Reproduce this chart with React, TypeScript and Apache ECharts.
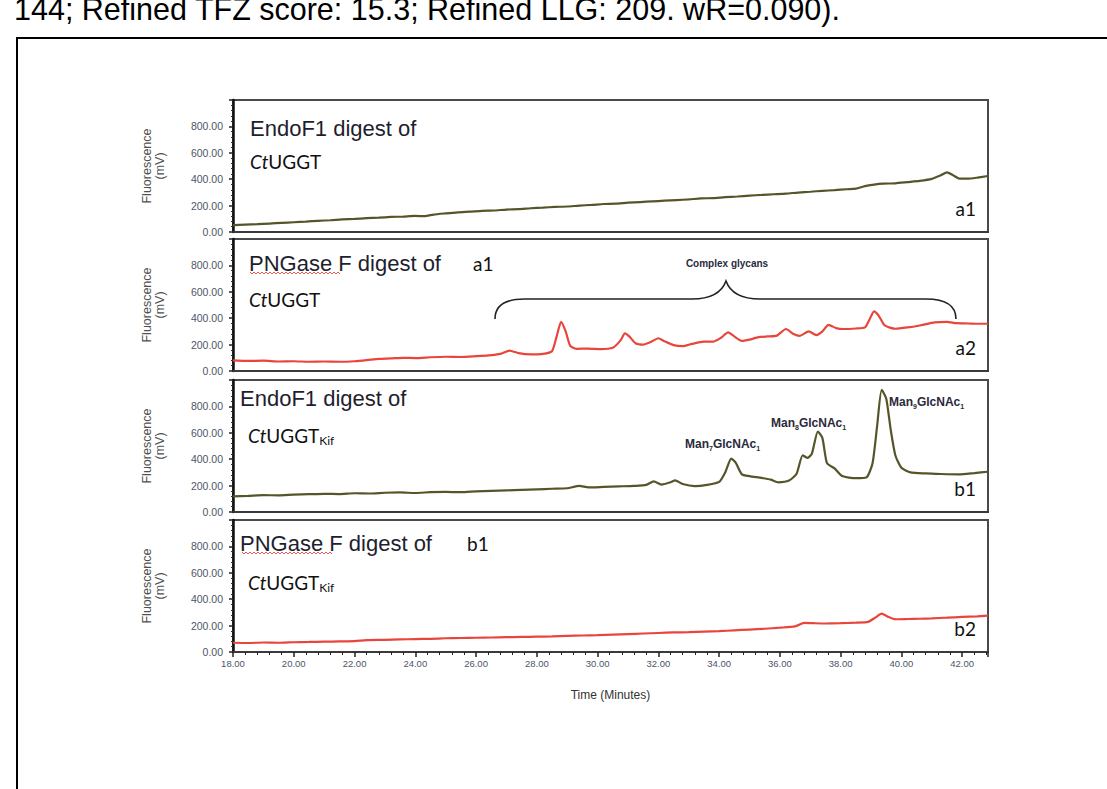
import React, { useEffect, useRef } from "react";
import * as echarts from "echarts";

// ---- data (Time in minutes, Fluorescence in mV) ----
const xTickValues = [18, 20, 22, 24, 26, 28, 30, 32, 34, 36, 38, 40, 42];
const yTickValues = [0, 200, 400, 600, 800];

const traceA1: number[][] = [
  [18.0, 52], [18.4, 56], [18.8, 59], [19.2, 64], [19.6, 69], [20.0, 74], [20.4, 79], [20.8, 85],
  [21.2, 89], [21.6, 95], [22.0, 99], [22.4, 105], [22.8, 109], [23.2, 114], [23.6, 117], [24.0, 122],
  [24.3, 120], [24.6, 132], [25.0, 141], [25.4, 149], [25.8, 154], [26.2, 160], [26.6, 163], [27.0, 170],
  [27.4, 173], [27.8, 180], [28.2, 185], [28.6, 190], [29.0, 193], [29.4, 200], [29.8, 205], [30.2, 212],
  [30.6, 215], [31.0, 222], [31.4, 227], [31.8, 232], [32.2, 237], [32.6, 242], [33.0, 247], [33.4, 254],
  [33.8, 257], [34.2, 264], [34.6, 269], [35.0, 276], [35.4, 281], [35.8, 286], [36.2, 291], [36.6, 299],
  [37.0, 305], [37.4, 312], [37.8, 317], [38.2, 324], [38.5, 328], [38.8, 348], [39.1, 359], [39.4, 366],
  [39.8, 369], [40.2, 378], [40.6, 387], [41.0, 402], [41.3, 430], [41.5, 452], [41.7, 430], [41.9, 405],
  [42.2, 404], [42.5, 412], [42.85, 424]
];

const traceA2: number[][] = [
  [18.0, 80], [18.5, 76], [19.0, 78], [19.5, 72], [20.0, 74], [20.5, 70], [21.0, 72], [21.5, 70],
  [22.0, 74], [22.4, 82], [22.8, 92], [23.2, 95], [23.6, 100], [24.0, 98], [24.5, 104], [25.0, 108],
  [25.5, 106], [26.0, 112], [26.4, 118], [26.8, 130], [27.1, 155], [27.4, 135], [27.8, 126], [28.2, 130],
  [28.5, 150], [28.65, 260], [28.8, 372], [28.95, 300], [29.1, 190], [29.3, 168], [29.7, 170], [30.1, 166],
  [30.5, 176], [30.75, 230], [30.9, 285], [31.05, 260], [31.25, 210], [31.5, 200], [31.75, 220], [32.0, 248],
  [32.2, 225], [32.5, 196], [32.8, 188], [33.1, 205], [33.5, 222], [33.8, 222], [34.05, 250], [34.3, 292],
  [34.5, 262], [34.75, 228], [35.0, 238], [35.3, 256], [35.6, 262], [35.9, 268], [36.2, 318], [36.45, 280],
  [36.65, 266], [36.95, 300], [37.2, 272], [37.4, 300], [37.6, 350], [37.85, 325], [38.1, 318], [38.5, 322],
  [38.8, 330], [38.95, 390], [39.1, 452], [39.25, 420], [39.45, 345], [39.8, 320], [40.2, 330], [40.6, 345],
  [41.1, 368], [41.5, 372], [41.8, 362], [42.2, 360], [42.5, 358], [42.85, 358]
];

const traceB1: number[][] = [
  [18.0, 118], [18.5, 122], [19.0, 128], [19.5, 126], [20.0, 132], [20.5, 135], [21.0, 138], [21.5, 136],
  [22.0, 142], [22.5, 140], [23.0, 146], [23.5, 148], [24.0, 144], [24.5, 150], [25.0, 152], [25.5, 150],
  [26.0, 156], [26.5, 160], [27.0, 164], [27.5, 168], [28.0, 172], [28.5, 176], [29.0, 180], [29.4, 198],
  [29.7, 186], [30.2, 190], [30.7, 194], [31.2, 198], [31.6, 205], [31.85, 232], [32.1, 208], [32.4, 225],
  [32.55, 240], [32.8, 212], [33.2, 196], [33.6, 205], [34.0, 228], [34.2, 300], [34.4, 405], [34.55, 372],
  [34.75, 285], [35.0, 272], [35.4, 258], [35.7, 245], [35.95, 225], [36.3, 238], [36.55, 290], [36.75, 430],
  [36.9, 410], [37.05, 440], [37.25, 610], [37.4, 560], [37.55, 370], [37.8, 330], [38.05, 272], [38.5, 256],
  [38.85, 262], [39.05, 370], [39.2, 650], [39.35, 925], [39.5, 860], [39.65, 620], [39.8, 430], [40.0, 335],
  [40.3, 300], [40.8, 292], [41.3, 288], [41.9, 285], [42.4, 295], [42.85, 305]
];

const traceB2: number[][] = [
  [18.0, 70], [18.5, 68], [19.0, 72], [19.5, 70], [20.0, 74], [20.5, 76], [21.0, 78], [21.5, 80],
  [22.0, 82], [22.4, 90], [23.0, 92], [23.5, 95], [24.0, 98], [24.5, 100], [25.0, 104], [25.5, 106],
  [26.0, 108], [26.5, 110], [27.0, 112], [27.5, 114], [28.0, 116], [28.5, 118], [29.0, 122], [29.5, 125],
  [30.0, 128], [30.5, 132], [31.0, 136], [31.5, 140], [32.0, 144], [32.5, 148], [33.0, 150], [33.5, 154],
  [34.0, 158], [34.5, 164], [35.0, 170], [35.5, 176], [36.0, 184], [36.5, 194], [36.8, 220], [37.1, 218],
  [37.5, 216], [38.0, 218], [38.5, 222], [38.9, 228], [39.15, 262], [39.35, 290], [39.55, 268], [39.8, 248],
  [40.2, 250], [40.6, 252], [41.0, 255], [41.5, 260], [42.0, 266], [42.5, 270], [42.85, 275]
];

const traces = [traceA1, traceA2, traceB1, traceB2];
const traceColors = ["#56552a", "#e8463c", "#56552a", "#e8463c"];
const cornerLabels = ["a1", "a2", "b1", "b2"];
const peakLabels = [
  { man: "7", glc: "1" },
  { man: "8", glc: "1" },
  { man: "9", glc: "1" }
];

const topNote = "144; Refined TFZ score: 15.3; Refined LLG: 209. wR=0.090).";

// ---- layout ----
const gridTops = [100, 239, 380, 520];
const gridH = 132;
const gridLeft = 233;
const gridW = 755;

export default function App() {
  const ref = useRef<HTMLDivElement>(null);

  useEffect(() => {
    if (!ref.current) return;
    const chart = echarts.init(ref.current, null, { renderer: "svg" });

    const braceD =
      "M495,319 C495,306 505,299 525,299 L692,299 C711,299 722,292 726,281 C730,292 741,299 760,299 L926,299 C946,299 956,306 956,319";
    echarts.graphic.registerShape("brace", echarts.graphic.extendPath(braceD, {}) as any);

    const grids = gridTops.map((t) => ({
      left: gridLeft,
      top: t,
      width: gridW,
      height: gridH,
      show: true,
      borderColor: "#4a4a4a",
      borderWidth: 2
    }));

    const xAxes = gridTops.map((_, i) => {
      const last = i === gridTops.length - 1;
      return {
        type: "value",
        gridIndex: i,
        min: 18,
        max: 42.85,
        interval: 2,
        axisLine: { show: true, lineStyle: { color: "#3a3a3a", width: 2 } },
        axisTick: { show: last, length: 5, lineStyle: { color: "#222", width: 1.5 } },
        minorTick: { show: last, splitNumber: 5, length: 3, lineStyle: { color: "#222", width: 1 } },
        splitLine: { show: false },
        axisLabel: {
          show: last,
          showMaxLabel: false,
          formatter: (v: number) => (xTickValues.indexOf(v) >= 0 ? v.toFixed(2) : ""),
          fontSize: 9.5,
          fontFamily: "Liberation Sans, Arial, sans-serif",
          color: "#4d5566",
          margin: 6
        },
        name: last ? "Time (Minutes)" : "",
        nameLocation: "middle",
        nameGap: 37,
        nameTextStyle: { fontSize: 12, fontFamily: "Liberation Sans, Arial, sans-serif", color: "#333" }
      };
    });

    const yAxes = gridTops.map((_, i) => ({
      type: "value",
      gridIndex: i,
      min: 0,
      max: 1000,
      interval: 200,
      axisLine: { show: true, lineStyle: { color: "#111", width: 2.5 } },
      axisTick: { show: true, length: 4, lineStyle: { color: "#222", width: 1.5 } },
      minorTick: { show: true, splitNumber: 5, length: 2, lineStyle: { color: "#333", width: 1 } },
      splitLine: { show: false },
      axisLabel: {
        showMaxLabel: false,
        formatter: (v: number) => (yTickValues.indexOf(v) >= 0 ? v.toFixed(2) : ""),
        fontSize: 10.5,
        fontFamily: "Liberation Sans, Arial, sans-serif",
        color: "#4d5566",
        margin: 10
      },
      name: "Fluorescence\n(mV)",
      nameLocation: "middle",
      nameRotate: 90,
      nameGap: 67,
      nameTextStyle: {
        fontSize: 12.5,
        lineHeight: 13,
        fontFamily: "Liberation Sans, Arial, sans-serif",
        color: "#505050"
      }
    }));

    const series = traces.map((d, i) => ({
      type: "line",
      xAxisIndex: i,
      yAxisIndex: i,
      data: d,
      showSymbol: false,
      smooth: 0.2,
      lineStyle: { color: traceColors[i], width: 2.2 },
      silent: true
    }));

    const titleFont = "Liberation Sans, Arial, sans-serif";
    const calFont = "Lato, 'Open Sans', sans-serif";
    const titleColor = "#1e1e2e";

    const wavy = (x0: number, x1: number, y: number) => {
      const pts: number[][] = [];
      let k = 0;
      for (let x = x0; x <= x1; x += 2) {
        pts.push([x, y + (k % 2 === 0 ? -1 : 1)]);
        k++;
      }
      return {
        type: "polyline",
        shape: { points: pts },
        style: { stroke: "#e0302a", lineWidth: 0.8, fill: "none" },
        silent: true
      };
    };

    const bigText = (x: number, y: number, text: string) => ({
      type: "text",
      x,
      y,
      style: {
        text,
        fill: titleColor,
        fontSize: 22,
        fontFamily: titleFont,
        align: "left",
        verticalAlign: "middle"
      },
      silent: true
    });

    const calText = (x: number, y: number, text: string, align = "left") => ({
      type: "text",
      x,
      y,
      style: {
        text,
        fill: "#111",
        fontSize: 19,
        fontFamily: calFont,
        align,
        verticalAlign: "middle"
      },
      silent: true
    });

    const ctText = (x: number, y: number, kif: boolean) => ({
      type: "text",
      x,
      y,
      style: {
        text: kif ? "{i|Ct}{n|UGGT}{s|Kif}" : "{i|Ct}{n|UGGT}",
        align: "left",
        verticalAlign: "middle",
        rich: {
          i: { fontStyle: "italic", fontSize: 19, fontFamily: calFont, fill: "#111", lineHeight: 22 },
          n: { fontSize: 19, fontFamily: calFont, fill: "#111", lineHeight: 22 },
          s: { fontSize: 12, fontFamily: calFont, fill: "#111", verticalAlign: "bottom" }
        }
      },
      silent: true
    });

    const manText = (x: number, y: number, m: { man: string; glc: string }) => ({
      type: "text",
      x,
      y,
      style: {
        text: `{b|Man}{s|${m.man}}{b|GlcNAc}{s|${m.glc}}`,
        align: "left",
        verticalAlign: "middle",
        rich: {
          b: { fontSize: 12, fontWeight: "bold", fontFamily: titleFont, fill: "#2a2a3a", lineHeight: 15 },
          s: { fontSize: 7, fontWeight: "bold", fontFamily: titleFont, fill: "#2a2a3a", verticalAlign: "bottom" }
        }
      },
      silent: true
    });

    const graphic: any[] = [
      {
        type: "text",
        x: 14,
        y: 24,
        style: {
          text: topNote,
          fill: "#000",
          fontSize: 30.5,
          fontFamily: titleFont,
          align: "left",
          verticalAlign: "bottom"
        },
        silent: true
      },
      {
        type: "rect",
        shape: { x: 17, y: 38, width: 1200, height: 900 },
        style: { stroke: "#000", lineWidth: 2, fill: "none" },
        silent: true
      },
      // panel 1
      bigText(250, 128, "EndoF1 digest of"),
      ctText(250, 161, false),
      // panel 2
      bigText(249, 263, "PNGase F digest of"),
      wavy(250, 340, 273),
      calText(473, 263, "a1"),
      ctText(249, 299, false),
      // panel 3
      bigText(240, 398, "EndoF1 digest of"),
      ctText(248, 435, true),
      // panel 4
      bigText(240, 543, "PNGase F digest of"),
      wavy(242, 333, 553),
      calText(467, 543, "b1"),
      ctText(248, 582, true),
      // corner labels
      ...cornerLabels.map((t, i) => calText(976, gridTops[i] + 108, t, "right")),
      // complex glycans annotation
      {
        type: "text",
        x: 727,
        y: 263,
        style: {
          text: "Complex glycans",
          fill: "#2a2a3a",
          fontSize: 10,
          fontWeight: "bold",
          fontFamily: titleFont,
          align: "center",
          verticalAlign: "middle"
        },
        silent: true
      },
      {
        type: "brace",
        x: 0,
        y: 0,
        style: { stroke: "#222", lineWidth: 1.6, fill: "none" },
        silent: true
      },
      manText(685, 444, peakLabels[0]),
      manText(771, 423, peakLabels[1]),
      manText(889, 402, peakLabels[2])
    ];

    chart.setOption({
      animation: false,
      backgroundColor: "#fff",
      grid: grids,
      xAxis: xAxes,
      yAxis: yAxes,
      series,
      graphic
    } as any);

    return () => chart.dispose();
  }, []);

  return (
    <div
      ref={ref}
      style={{ position: "absolute", left: 0, top: 0, width: 1107, height: 789, background: "#fff" }}
    />
  );
}
